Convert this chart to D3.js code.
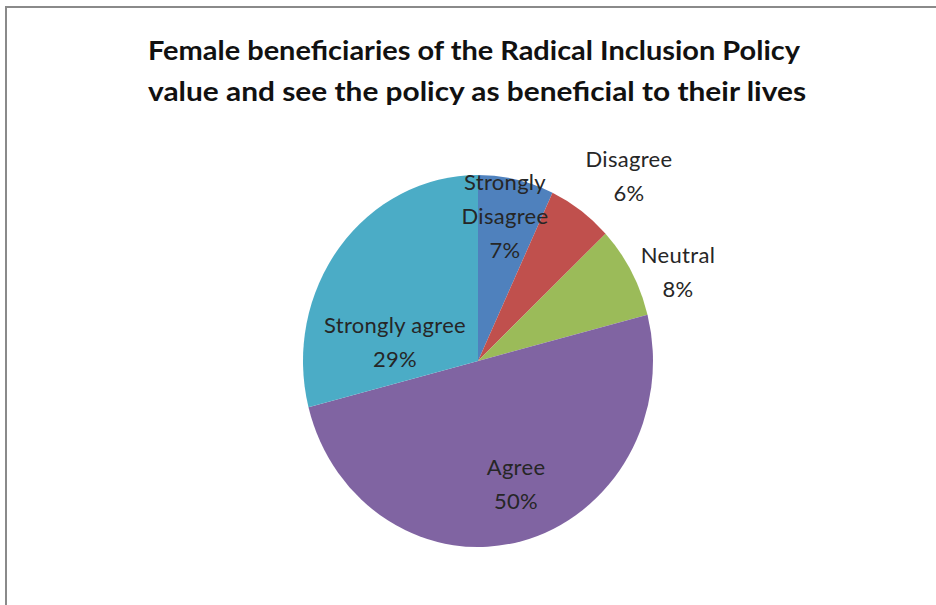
<!DOCTYPE html>
<html>
<head>
<meta charset="utf-8">
<script src="https://cdn.jsdelivr.net/npm/d3@7"></script>
<style>
  html, body { margin: 0; padding: 0; background: #fff; }
  svg { display: block; }
</style>
</head>
<body>
<svg id="chart" width="936" height="605"></svg>
<script>
// ---- data ----
const categories = ["Strongly Disagree", "Disagree", "Neutral", "Agree", "Strongly agree"];
const labelLines = [["Strongly", "Disagree"], ["Disagree"], ["Neutral"], ["Agree"], ["Strongly agree"]];
const values = [7, 6, 8, 50, 29];
const titleLines = [
  "Female beneficiaries of the Radical  Inclusion Policy",
  "value and see the policy as beneficial to their lives"
];

// ---- styles / layout ----
const colors = ["#4F81BD", "#C0504D", "#9BBB59", "#8064A2", "#4BACC6"];
const cx = 478, cy = 361, rx = 175, ry = 186;
// label anchor offsets from pie centre (x centre, first baseline)
const labelOffsets = [[27, -171], [151, -194], [200, -98], [38, 114], [-83, -28]];
const lineH = 34;

const svg = d3.select("#chart");
svg.append("rect").attr("width", 936).attr("height", 605).attr("fill", "#fff");

// frame
svg.append("path")
  .attr("d", "M6,605 L6,7 L936,7")
  .attr("fill", "none").attr("stroke", "#8a8a8a").attr("stroke-width", 2);

// title
const titleWidths = [652, 658];
const titleCx = [474, 477];
const titleY = [60, 101];
titleLines.forEach((t, i) => {
  svg.append("text")
    .attr("x", titleCx[i]).attr("y", titleY[i])
    .attr("text-anchor", "middle")
    .attr("font-family", "Lato, 'Open Sans', sans-serif")
    .attr("font-weight", "bold")
    .attr("font-size", 27)
    .attr("fill", "#111")
    .attr("textLength", titleWidths[i])
    .attr("lengthAdjust", "spacingAndGlyphs")
    .text(t);
});

// pie
const pie = d3.pie().sort(null).value(d => d)(values);
const arc = d3.arc().innerRadius(0).outerRadius(rx);
const g = svg.append("g")
  .attr("transform", `translate(${cx},${cy}) scale(1,${ry / rx})`);
g.selectAll("path").data(pie).join("path")
  .attr("d", arc)
  .attr("fill", (d, i) => colors[i]);

// labels
const total = d3.sum(values);
const lg = svg.append("g").attr("transform", `translate(${cx},${cy})`);
pie.forEach((d, i) => {
  const lines = labelLines[i].concat([Math.round(d.value / total * 100) + "%"]);
  const t = lg.append("text")
    .attr("text-anchor", "middle")
    .attr("font-family", "Lato, 'Open Sans', sans-serif")
    .attr("font-size", 22)
    .attr("letter-spacing", 0.3)
    .attr("fill", "#262626");
  lines.forEach((ln, j) => {
    t.append("tspan")
      .attr("x", labelOffsets[i][0])
      .attr("y", labelOffsets[i][1] + j * lineH)
      .text(ln);
  });
});
</script>
</body>
</html>
